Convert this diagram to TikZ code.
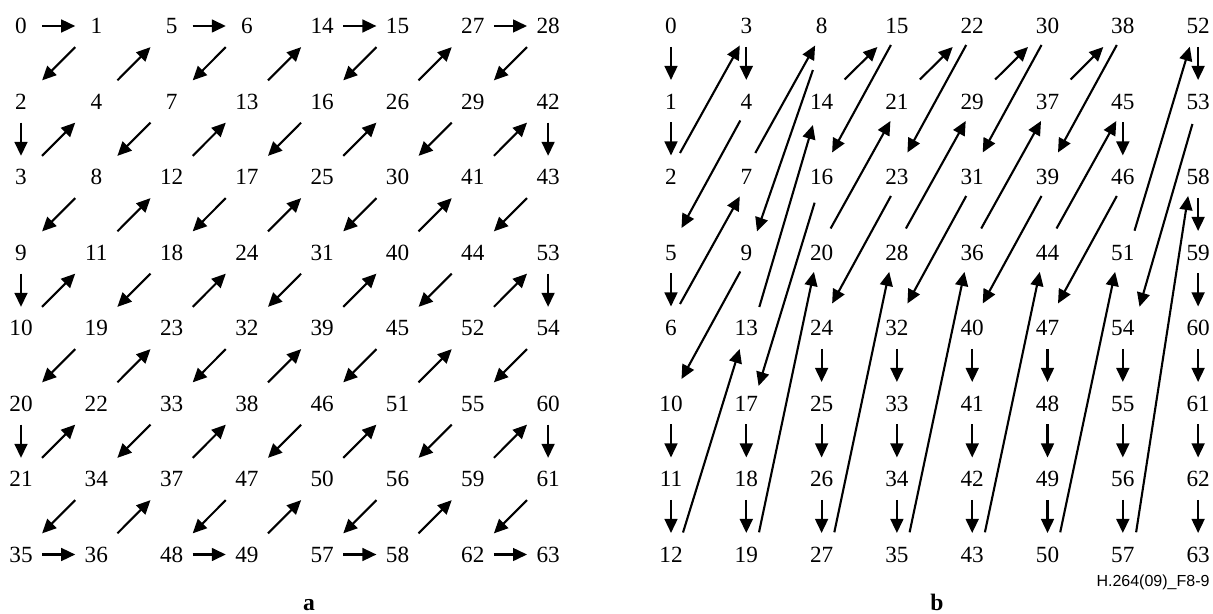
\documentclass[tikz,border=0pt]{standalone}
\usepackage{fontspec}
\setmainfont{Liberation Serif}
\newfontfamily\labelsans{Liberation Sans}
\usetikzlibrary{arrows.meta,calc}
\begin{document}
\begin{tikzpicture}[x=0.5pt,y=-0.5pt,
  num/.style={inner sep=0pt,text height=7.6pt,text depth=0pt,font=\fontsize{11.6}{13}\selectfont},
  sub/.style={inner sep=0pt,anchor=base,font=\fontsize{11.8}{13}\selectfont\bfseries},
  arr/.style={line width=1.05pt,-{Triangle[length=7pt,width=6.4pt]}},
  ]
\useasboundingbox (0,0) rectangle (1213,614);
% ---------- grid a (zig-zag) ----------
\foreach \row [count=\i from 0] in {
  {0,1,5,6,14,15,27,28},
  {2,4,7,13,16,26,29,42},
  {3,8,12,17,25,30,41,43},
  {9,11,18,24,31,40,44,53},
  {10,19,23,32,39,45,52,54},
  {20,22,33,38,46,51,55,60},
  {21,34,37,47,50,56,59,61},
  {35,36,48,49,57,58,62,63}} {
  \foreach \v [count=\j from 0] in \row {
    \node[num] (a\v) at ({21+75.3*\j},{26+75.5*\i}) {\v};
  }
}
% ---------- grid b (field scan) ----------
\foreach \row [count=\i from 0] in {
  {0,3,8,15,22,30,38,52},
  {1,4,14,21,29,37,45,53},
  {2,7,16,23,31,39,46,58},
  {5,9,20,28,36,44,51,59},
  {6,13,24,32,40,47,54,60},
  {10,17,25,33,41,48,55,61},
  {11,18,26,34,42,49,56,62},
  {12,19,27,35,43,50,57,63}} {
  \foreach \v [count=\j from 0] in \row {
    \node[num] (b\v) at ({671+75.3*\j},{26+75.5*\i}) {\v};
  }
}
% ---------- arrows of grid a ----------
\foreach \k [evaluate=\k as \n using int(\k+1)] in {0,...,62} {
  \draw[arr] ($(a\k.center)!0.28!(a\n.center)$) -- ($(a\k.center)!0.72!(a\n.center)$);
}
% ---------- arrows of grid b ----------
% vertical steps
\foreach \k [evaluate=\k as \n using int(\k+1)] in
  {0,1,3,5,10,11,17,18,24,25,26,32,33,34,40,41,42,45,47,48,49,52,54,55,56,58,59,60,61,62} {
  \draw[arr] ($(b\k.center)!0.275!(b\n.center)$) -- ($(b\k.center)!0.715!(b\n.center)$);
}
% up two rows
\foreach \k/\n in {2/3,6/7,7/8,20/21,28/29,36/37,44/45} {
  \draw[arr] ([shift={(9,-24)}]b\k.center) -- ([shift={(-6.5,19.5)}]b\n.center);
}
% down two rows
\foreach \k/\n in {4/5,9/10,15/16,22/23,23/24,30/31,31/32,38/39,39/40,46/47} {
  \draw[arr] ([shift={(-6,19)}]b\k.center) -- ([shift={(10.5,-24.5)}]b\n.center);
}
% up one row
\foreach \k/\n in {14/15,21/22,29/30,37/38} {
  \draw[arr] ([shift={(23,-22)}]b\k.center) -- ([shift={(-19.5,21)}]b\n.center);
}
% up three rows
\draw[arr] ([shift={(12,-22)}]b12.center) -- ([shift={(-6.7,21)}]b13.center);
\draw[arr] ([shift={(13,-21)}]b13.center) -- ([shift={(-8.7,23.5)}]b14.center);
\draw[arr] ([shift={(11.7,-21.8)}]b51.center) -- ([shift={(-8.3,20.7)}]b52.center);
% down three rows
\draw[arr] ([shift={(-8.7,44)}]b8.center) -- ([shift={(10.7,-21)}]b9.center);
\draw[arr] ([shift={(-7,25.7)}]b16.center) -- ([shift={(12.3,-17.5)}]b17.center);
\draw[arr] ([shift={(-5.7,22.5)}]b53.center) -- ([shift={(16.7,-21.3)}]b54.center);
% up four rows
\foreach \k/\n in {19/20,27/28,35/36,43/44,50/51} {
  \draw[arr] ([shift={(12.7,-22.2)}]b\k.center) -- ([shift={(-7.7,19.4)}]b\n.center);
}
% up five rows
\draw[arr] ([shift={(13.3,-22.2)}]b57.center) -- ([shift={(-10,19)}]b58.center);
% ---------- captions ----------
\node[sub] (capa) at (309,610) {a};
\node[sub] (capb) at (937,610) {b};
\node[inner sep=0pt,anchor=base,font=\labelsans\fontsize{8}{9}\selectfont] (fig) at (1153,586.5) {H.264(09)\_F8-9};
\end{tikzpicture}
\end{document}
